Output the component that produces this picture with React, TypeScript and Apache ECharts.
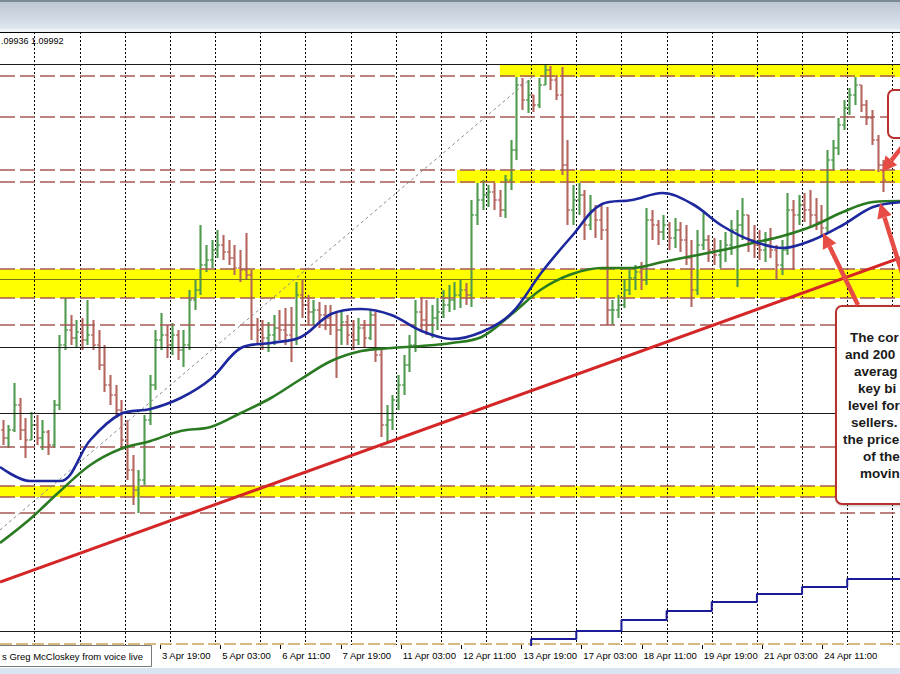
import React, { useEffect, useRef } from "react";
import * as echarts from "echarts";

// ---- data (price in chart points, time in hours from left edge) ----
const X_MAX = 478.35;
const FIRST_OPEN = 215;
const HIGH = [
  225, 220, 262, 247, 227, 233, 230, 225, 215, 245,
  310, 347, 330, 325, 327, 345, 325, 315, 300, 270,
  260, 245, 225, 190, 175, 230, 270, 315, 332, 320,
  322, 315, 315, 355, 365, 420, 400, 405, 415, 410,
  405, 400, 395, 412, 375, 327, 325, 323, 330, 335,
  337, 338, 363, 365, 350, 345, 343, 340, 340, 332,
  335, 330, 325, 327, 325, 335, 333, 295, 240, 250,
  270, 290, 310, 345, 348, 345, 340, 347, 355, 360,
  363, 365, 362, 445, 462, 465, 460, 462, 455, 470,
  505, 568, 567, 565, 550, 567, 580, 579, 570, 578,
  505, 460, 462, 455, 450, 440, 440, 438, 345, 350,
  365, 375, 380, 383, 437, 435, 425, 430, 423, 427,
  423, 420, 405, 415, 432, 410, 407, 405, 413, 425,
  435, 447, 430, 420, 415, 413, 417, 400, 405, 452,
  445, 450, 452, 455, 447, 440, 495, 505, 527, 545,
  557, 568, 560, 545, 535, 510, 485,
];
const LOW = [
  200, 197, 213, 205, 187, 205, 200, 195, 190, 197,
  235, 295, 300, 297, 295, 300, 295, 275, 253, 240,
  227, 195, 165, 140, 132, 160, 220, 255, 295, 287,
  290, 285, 278, 295, 335, 350, 373, 377, 387, 385,
  380, 370, 363, 365, 305, 300, 295, 293, 300, 305,
  300, 283, 300, 327, 320, 320, 317, 315, 310, 267,
  300, 300, 295, 300, 297, 305, 283, 208, 202, 215,
  235, 250, 273, 293, 315, 310, 307, 315, 327, 333,
  335, 337, 340, 338, 420, 435, 438, 435, 428, 427,
  455, 485, 535, 532, 533, 537, 560, 555, 545, 470,
  420, 420, 430, 405, 415, 407, 405, 320, 320, 327,
  337, 350, 355, 355, 360, 405, 400, 405, 395, 397,
  393, 380, 338, 350, 395, 383, 380, 377, 383, 390,
  358, 405, 393, 387, 385, 383, 387, 365, 370, 390,
  375, 420, 423, 417, 415, 410, 413, 475, 490, 515,
  530, 540, 533, 520, 500, 473, 453,
];
const CLOSE = [
  207, 215, 240, 215, 205, 220, 207, 213, 200, 240,
  300, 315, 307, 313, 305, 310, 300, 280, 260, 250,
  235, 205, 175, 155, 165, 225, 260, 305, 310, 300,
  310, 295, 300, 345, 355, 380, 385, 395, 400, 393,
  387, 377, 375, 370, 320, 315, 307, 310, 317, 315,
  310, 305, 350, 340, 333, 335, 330, 327, 320, 315,
  323, 310, 305, 317, 307, 330, 290, 220, 225, 245,
  260, 280, 300, 333, 325, 320, 327, 333, 340, 345,
  350, 355, 350, 430, 445, 450, 453, 445, 435, 465,
  495, 560, 545, 550, 540, 560, 575, 565, 550, 480,
  435, 445, 450, 420, 435, 425, 415, 335, 335, 340,
  355, 367, 373, 365, 425, 420, 413, 420, 407, 415,
  405, 387, 355, 400, 405, 395, 390, 395, 400, 415,
  420, 430, 405, 400, 395, 400, 395, 380, 395, 435,
  430, 440, 435, 430, 423, 417, 485, 497, 520, 537,
  550, 560, 540, 527, 505, 480, 465,
];
const BAR_HOURS = 3;

const MA_STEP_HOURS = 16;
const MA100 = [
  178, 164, 164, 205, 231, 236, 247, 266, 297, 302, 308, 331, 336, 330, 314, 306,
  313, 332, 373, 409, 441, 445, 452, 441, 419, 404, 397, 405, 420, 438, 443,
];
const MA200 = [
  102, 126, 154, 180, 196, 204, 214, 218, 232, 247, 266, 284, 294, 297, 299, 302,
  308, 331, 356, 371, 377, 377, 383, 389, 395, 402, 409, 419, 433, 443, 444,
];

const STEP_HOURS = [265.7, 282.3, 306.3, 330.3, 354.3, 378.3, 402.3, 426.3, 450.3, 478.35];
const STEP_LEVEL = [-35, 6, 14, 25, 34, 43, 51, 58, 66, 66];

const DAY_LINES = [
  18.3, 42.3, 66.3, 90.3, 114.3, 138.3, 162.3, 186.3, 210.3, 234.3,
  258.3, 282.3, 306.3, 330.3, 354.3, 378.3, 402.3, 426.3, 450.3, 474.3,
];
const LABEL_HOURS = [85, 117, 149, 181, 213, 245, 277, 309, 341, 373, 405, 437];
const LABEL_TEXT = [
  "3 Apr 19:00", "5 Apr 03:00", "6 Apr 11:00", "7 Apr 19:00", "11 Apr 03:00", "12 Apr 11:00",
  "13 Apr 19:00", "17 Apr 03:00", "18 Apr 11:00", "19 Apr 19:00", "21 Apr 03:00", "24 Apr 11:00",
];

const BAND_LOW = [568, 462, 347, 148];
const BAND_HIGH = [581, 475, 376, 159];
const BAND_START = [265.7, 242.9, 0, 0];

const SOLID_LEVELS = [581, 366, 298, 232, 14];
const DASHED_LEVELS = [569, 528, 475, 463, 376, 347, 320, 198, 159, 148, 132];
const TAN_LEVELS = [1];

const TRENDLINE = [[0, 63], [478.35, 387]];
const DIAGONAL = [[0, 115], [284.3, 570]];

const NOTE_LINES = ["The cor", "and 200", "averag", "key bi", "level for", "sellers.", "the price", "of the", "movin"];
const HEADER_TEXT = ".09936 1.09992";
const FOOT_TEXT = "s Greg McCloskey from voice live";

// ---- colors ----
const UP = "#4f9a4f";
const DOWN = "#b4655e";
const YELLOW = "#ffff00";
const ARROW_RED = "#e64b45";
const BOX_RED = "#b8312f";

function arrow(x1: number, y1: number, x2: number, y2: number) {
  const dx = x2 - x1, dy = y2 - y1;
  const len = Math.hypot(dx, dy);
  const ux = dx / len, uy = dy / len;
  const hl = 15, hw = 7.5;
  const bx = x2 - ux * hl, by = y2 - uy * hl;
  return [
    { type: "line", shape: { x1, y1, x2: bx, y2: by }, style: { stroke: ARROW_RED, lineWidth: 4.5 }, z: 100 },
    {
      type: "polygon",
      shape: { points: [[x2, y2], [bx - uy * hw, by + ux * hw], [bx + uy * hw, by - ux * hw]] },
      style: { fill: ARROW_RED },
      z: 100,
    },
  ];
}

function buildOption() {
  const bars = HIGH.map((h, i) => [
    BAR_HOURS / 2 + BAR_HOURS * i,
    i === 0 ? FIRST_OPEN : CLOSE[i - 1],
    h,
    LOW[i],
    CLOSE[i],
  ]);

  const inBand = (v: number) => BAND_LOW.some((lo, i) => v > lo + 0.5 && v < BAND_HIGH[i] - 0.5);

  const noteX = [850, 845, 854, 858, 848, 851, 843, 863, 860];

  const graphic: any[] = [
    {
      type: "rect",
      shape: { x: 0, y: 0, width: 900, height: 29 },
      style: {
        fill: new echarts.graphic.LinearGradient(0, 0, 0, 1, [
          { offset: 0, color: "#b9c5d2" },
          { offset: 1, color: "#dfe7ef" },
        ]),
      },
      z: 50,
    },
    { type: "rect", shape: { x: 0, y: 0, width: 900, height: 2 }, style: { fill: "#7c8a98" }, z: 51 },
    { type: "rect", shape: { x: 0, y: 29, width: 900, height: 3 }, style: { fill: "#eef3f8" }, z: 50 },
    { type: "line", shape: { x1: 0, y1: 32.5, x2: 900, y2: 32.5 }, style: { stroke: "#000", lineWidth: 1 }, z: 51 },
    { type: "rect", shape: { x: 0, y: 668, width: 900, height: 6 }, style: { fill: "#d9e5f1" }, z: 50 },
    {
      type: "text",
      x: 1,
      y: 41,
      style: { text: HEADER_TEXT, fill: "#000", fontSize: 9, fontFamily: "Liberation Sans", verticalAlign: "middle" },
      z: 60,
    },
    {
      type: "rect",
      shape: { x: -1.5, y: 645.5, width: 153, height: 21 },
      style: { fill: "#fff", stroke: "#7a7a7a", lineWidth: 1 },
      z: 60,
    },
    {
      type: "text",
      x: 2,
      y: 656,
      style: { text: FOOT_TEXT, fill: "#000", fontSize: 9.5, fontFamily: "Liberation Sans", verticalAlign: "middle" },
      z: 61,
    },
    {
      type: "rect",
      shape: { x: 888, y: 90, width: 40, height: 48, r: 6 },
      style: { fill: "#fff", stroke: BOX_RED, lineWidth: 2 },
      z: 90,
    },
    {
      type: "rect",
      shape: { x: 836, y: 306, width: 90, height: 198, r: 6 },
      style: { fill: "#fff", stroke: BOX_RED, lineWidth: 2, shadowBlur: 3, shadowColor: "rgba(0,0,0,0.25)", shadowOffsetX: 1, shadowOffsetY: 1 },
      z: 90,
    },
    ...NOTE_LINES.map((t, i) => ({
      type: "text",
      x: noteX[i],
      y: 337 + i * 17.1,
      style: {
        text: t,
        fill: "#1a1a1a",
        fontSize: 13.5,
        fontWeight: "bold",
        fontFamily: "Liberation Sans",
        verticalAlign: "middle",
      },
      z: 95,
    })),
    ...arrow(858, 305, 823, 233),
    ...arrow(908, 292, 880, 203),
    ...arrow(906, 142, 882, 172),
  ];

  return {
    animation: false,
    backgroundColor: "#ffffff",
    grid: { left: 0, right: 0, top: 32, bottom: 29, containLabel: false },
    xAxis: {
      type: "value",
      min: 0,
      max: X_MAX,
      axisLine: { show: false },
      splitLine: { show: false },
      axisTick: { show: false },
      axisLabel: {
        customValues: LABEL_HOURS,
        formatter: (v: number) => {
          const k = LABEL_HOURS.indexOf(Math.round(v));
          return k >= 0 ? LABEL_TEXT[k] : "";
        },
        align: "left",
        margin: 5,
        padding: [0, 0, 0, 2],
        color: "#000",
        fontSize: 9.5,
        fontFamily: "Liberation Sans",
      },
    },
    yAxis: { type: "value", min: 0, max: 613, show: false },
    graphic,
    series: [
      {
        name: "bands",
        type: "line",
        data: [],
        z: 1,
        silent: true,
        markArea: {
          silent: true,
          itemStyle: { color: YELLOW },
          data: BAND_LOW.map((lo, i) =>
            BAND_START[i] > 0
              ? [{ xAxis: BAND_START[i], yAxis: lo }, { xAxis: X_MAX, yAxis: BAND_HIGH[i] }]
              : [{ yAxis: lo }, { yAxis: BAND_HIGH[i] }]
          ),
        },
      },
      {
        name: "days",
        type: "custom",
        z: 2,
        silent: true,
        clip: true,
        encode: { x: 0 },
        data: DAY_LINES.map((t) => [t]),
        renderItem: (params: any, api: any) => {
          const t = api.value(0);
          const p0 = api.coord([t, 0]);
          const p1 = api.coord([t, 613]);
          const x = Math.round(p0[0]) + 0.5;
          return {
            type: "line",
            shape: { x1: x, y1: p1[1], x2: x, y2: p0[1] },
            style: { stroke: "#000", lineWidth: 1, lineDash: [2, 2] },
          };
        },
      },
      {
        name: "ticks",
        type: "custom",
        z: 2,
        silent: true,
        clip: false,
        encode: { x: 0 },
        data: LABEL_HOURS.map((t) => [t]),
        renderItem: (params: any, api: any) => {
          const t = api.value(0);
          const p0 = api.coord([t, 0]);
          const x = Math.round(p0[0]) + 0.5;
          return {
            type: "line",
            shape: { x1: x, y1: p0[1], x2: x, y2: p0[1] + 4 },
            style: { stroke: "#000", lineWidth: 1 },
          };
        },
      },
      {
        name: "levels",
        type: "line",
        data: [],
        z: 3,
        silent: true,
        markLine: {
          silent: true,
          symbol: ["none", "none"],
          label: { show: false },
          data: [
            ...DASHED_LEVELS.map((v) => ({ yAxis: v, lineStyle: { color: "#a85a55", type: [15, 5], width: 1.5 } })),
            ...SOLID_LEVELS.map((v) => ({
              yAxis: v,
              lineStyle: { color: inBand(v) ? "#77731c" : "#1a1a1a", type: "solid", width: 1 },
            })),
            ...TAN_LEVELS.map((v) => ({ yAxis: v, lineStyle: { color: "#c9a35a", type: [12, 4], width: 1.5 } })),
          ],
        },
      },
      {
        name: "diagonal",
        type: "line",
        data: [],
        z: 3,
        silent: true,
        markLine: {
          silent: true,
          symbol: ["none", "none"],
          label: { show: false },
          lineStyle: { color: "#8a8a8a", type: [3, 3], width: 1 },
          data: [[{ coord: DIAGONAL[0] }, { coord: DIAGONAL[1] }]],
        },
      },
      {
        name: "EURUSD",
        type: "custom",
        z: 4,
        clip: true,
        encode: { x: 0, y: [1, 2, 3, 4] },
        data: bars,
        renderItem: (params: any, api: any) => {
          const t = api.value(0), o = api.value(1), h = api.value(2), l = api.value(3), c = api.value(4);
          const pH = api.coord([t, h]);
          const pL = api.coord([t, l]);
          const pO = api.coord([t, o]);
          const pC = api.coord([t, c]);
          const color = c >= o ? UP : DOWN;
          const x = Math.round(pH[0]) + 0.5;
          return {
            type: "group",
            children: [
              { type: "line", shape: { x1: x, y1: pH[1], x2: x, y2: pL[1] }, style: { stroke: color, lineWidth: 2.1 } },
              { type: "line", shape: { x1: x - 2.4, y1: pO[1], x2: x, y2: pO[1] }, style: { stroke: color, lineWidth: 1.4 } },
              { type: "line", shape: { x1: x, y1: pC[1], x2: x + 2.4, y2: pC[1] }, style: { stroke: color, lineWidth: 1.4 } },
            ],
          };
        },
      },
      {
        name: "MA200",
        type: "line",
        z: 5,
        smooth: 0.35,
        showSymbol: false,
        silent: true,
        lineStyle: { color: "#2a7a22", width: 2.6 },
        data: MA200.map((v, i) => [i * MA_STEP_HOURS, v]),
      },
      {
        name: "MA100",
        type: "line",
        z: 6,
        smooth: 0.35,
        showSymbol: false,
        silent: true,
        lineStyle: { color: "#1d279e", width: 2.6 },
        data: MA100.map((v, i) => [i * MA_STEP_HOURS, v]),
      },
      {
        name: "step",
        type: "line",
        z: 5,
        step: "end",
        showSymbol: false,
        silent: true,
        lineStyle: { color: "#1b1b9a", width: 2 },
        data: STEP_HOURS.map((t, i) => [t, STEP_LEVEL[i]]),
      },
      {
        name: "trend",
        type: "line",
        data: [],
        z: 7,
        silent: true,
        markLine: {
          silent: true,
          symbol: ["none", "none"],
          label: { show: false },
          lineStyle: { color: "#d42626", type: "solid", width: 3 },
          data: [[{ coord: TRENDLINE[0] }, { coord: TRENDLINE[1] }]],
        },
      },
    ],
  };
}

export default function App() {
  const ref = useRef<HTMLDivElement>(null);
  useEffect(() => {
    if (!ref.current) return;
    const chart = echarts.init(ref.current, null, { renderer: "svg" });
    chart.setOption(buildOption() as any);
    return () => chart.dispose();
  }, []);
  return (
    <div
      ref={ref}
      style={{ position: "fixed", left: 0, top: 0, width: 900, height: 674, background: "#fff" }}
    />
  );
}
